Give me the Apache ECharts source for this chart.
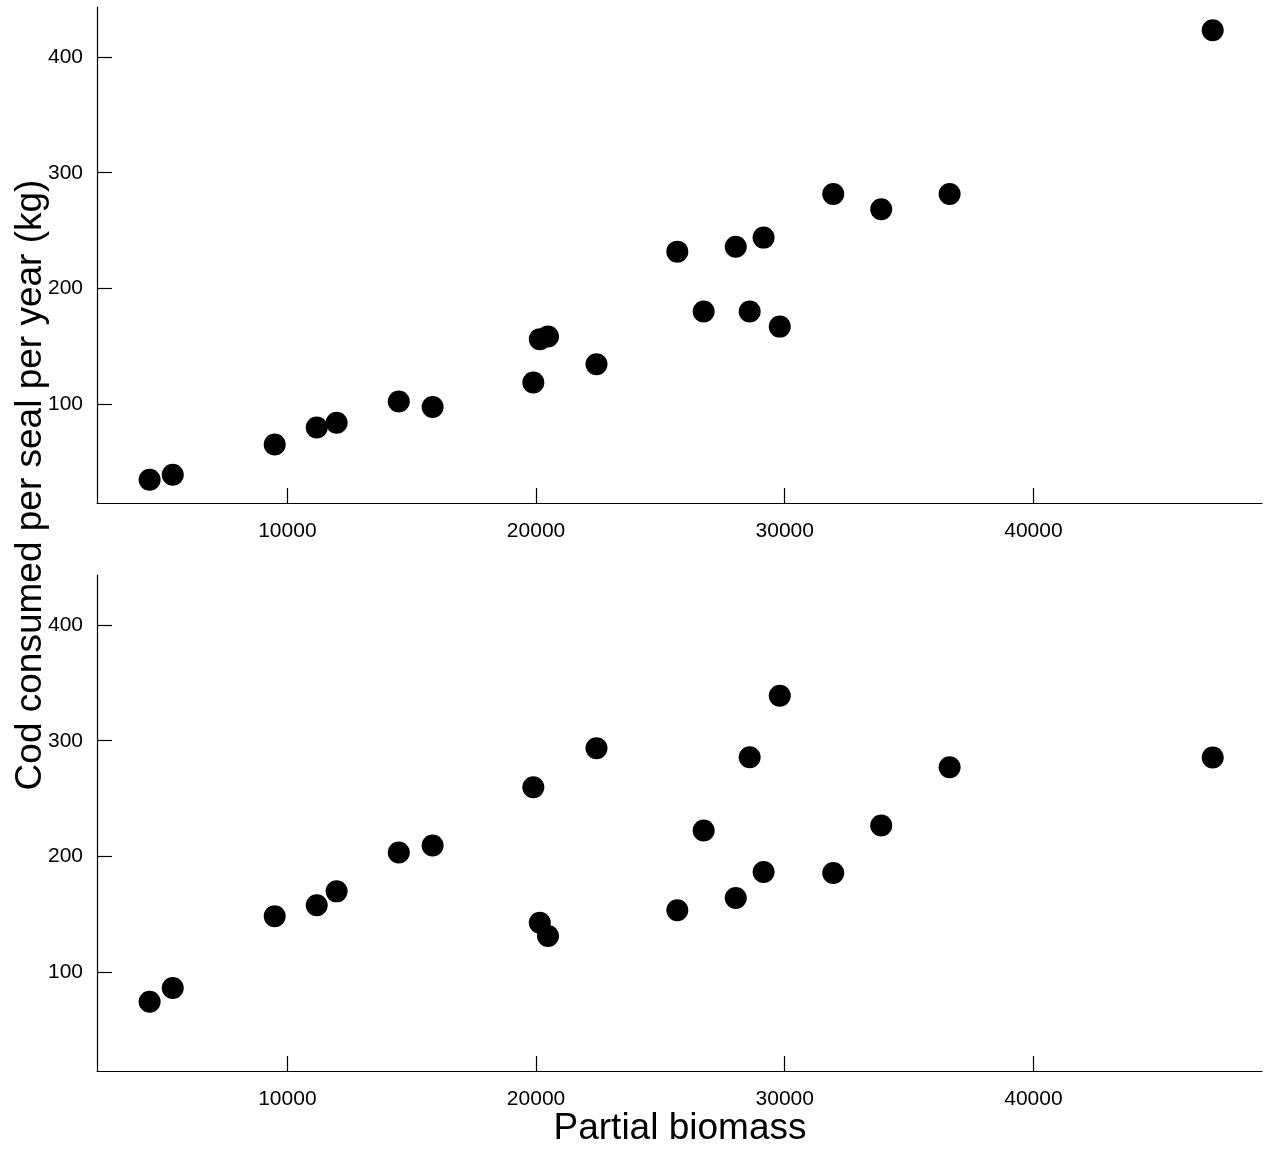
<!DOCTYPE html>
<html>
<head>
<meta charset="utf-8">
<script src="https://cdn.jsdelivr.net/npm/echarts@6/dist/echarts.min.js"></script>
<style>
  html, body { margin: 0; padding: 0; background: #fff; }
  #chart { width: 1272px; height: 1153px; }
</style>
</head>
<body>
<div id="chart"></div>
<script>
// Partial biomass (x) shared by both panels
const biomass = [4460, 5390, 9490, 11180, 11980, 14480, 15840, 19890, 20150, 20480,
  22430, 25680, 26740, 28030, 28590, 29150, 29800, 31950, 33880, 36630, 47210];

// Cod consumed per seal per year (kg), top panel
const codTop = [35, 39.4, 65.5, 80.2, 84.2, 102.6, 97.8, 119, 156.4, 158.6,
  134.8, 231.9, 180.2, 236.2, 180.2, 244, 167.2, 281.6, 268.4, 281.6, 423];

// Cod consumed per seal per year (kg), bottom panel
const codBottom = [74.7, 86.7, 148.5, 158, 170, 203.6, 209.6, 259.9, 143, 131.5,
  293.5, 153.7, 222.6, 164.3, 285.7, 186.7, 338.8, 185.8, 226.9, 277.1, 285.5];

const xTicks = [10000, 20000, 30000, 40000];
const yTicks = [100, 200, 300, 400];

const font = '"Liberation Sans", Arial, sans-serif';

const chartDom = document.getElementById('chart');
const myChart = echarts.init(chartDom);

const xAxisBase = (gridIndex) => ({
  type: 'value',
  gridIndex: gridIndex,
  min: 2344,
  max: 49192,
  axisLine: { lineStyle: { color: '#000', width: 1.2 } },
  axisTick: { length: -15, customValues: xTicks, lineStyle: { color: '#000', width: 1.2 } },
  axisLabel: {
    customValues: xTicks,
    formatter: (v) => String(v),
    color: '#000',
    fontSize: 21,
    fontFamily: font,
    margin: 18,
  },
  splitLine: { show: false },
});

const yAxisBase = (gridIndex) => ({
  type: 'value',
  gridIndex: gridIndex,
  min: 15,
  max: 443,
  axisLine: { show: true, lineStyle: { color: '#000', width: 1.2 } },
  axisTick: { show: true, length: -15, customValues: yTicks, lineStyle: { color: '#000', width: 1.2 } },
  axisLabel: {
    customValues: yTicks,
    formatter: (v) => String(v),
    color: '#000',
    fontSize: 21,
    fontFamily: font,
    margin: 14,
  },
  splitLine: { show: false },
});

const option = {
  backgroundColor: '#fff',
  animation: false,
  grid: [
    { left: 97, width: 1165, top: 7, height: 496 },
    { left: 97, width: 1165, top: 575, height: 496 },
  ],
  xAxis: [xAxisBase(0), xAxisBase(1)],
  yAxis: [yAxisBase(0), yAxisBase(1)],
  graphic: [
    {
      type: 'text',
      x: 680,
      y: 1129,
      style: {
        text: 'Partial biomass',
        fontSize: 37,
        fontFamily: font,
        fill: '#000',
        align: 'center',
        verticalAlign: 'middle',
      },
    },
    {
      type: 'text',
      x: 31,
      y: 485,
      rotation: Math.PI / 2,
      style: {
        text: 'Cod consumed per seal per year (kg)',
        fontSize: 37,
        fontFamily: font,
        fill: '#000',
        align: 'center',
        verticalAlign: 'middle',
      },
    },
  ],
  series: [
    {
      name: 'top',
      type: 'scatter',
      xAxisIndex: 0,
      yAxisIndex: 0,
      data: biomass.map((x, i) => [x, codTop[i]]),
      symbol: 'circle',
      symbolSize: 22,
      itemStyle: { color: '#000', opacity: 1 },
    },
    {
      name: 'bottom',
      type: 'scatter',
      xAxisIndex: 1,
      yAxisIndex: 1,
      data: biomass.map((x, i) => [x, codBottom[i]]),
      symbol: 'circle',
      symbolSize: 22,
      itemStyle: { color: '#000', opacity: 1 },
    },
  ],
};

myChart.setOption(option);

window.addEventListener('resize', function () {
  myChart.resize();
});
</script>
</body>
</html>
